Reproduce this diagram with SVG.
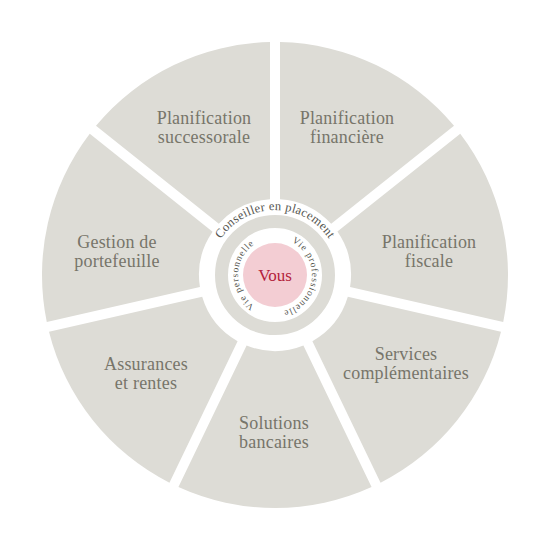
<svg xmlns="http://www.w3.org/2000/svg" xmlns:xlink="http://www.w3.org/1999/xlink" width="550" height="550" viewBox="0 0 550 550">
<style>
.seg{fill:#dddcd6}
.lbl{font-family:"Liberation Serif","Times New Roman",serif;font-size:18px;fill:#77756a;text-anchor:middle;letter-spacing:0.2px}
.arc{font-family:"Liberation Serif","Times New Roman",serif;fill:#55554f;text-anchor:middle}
</style>
<defs>
<path id="seg" d="M5,-232.95 A233,233 0 0 1 179.01,-149.15 L56.17,-51.19 A76,76 0 0 0 5,-75.84 Z"/>
<path id="pTop" d="M-65,0 A65,65 0 0 1 65,0"/>
<path id="pLeft" d="M0,37 A37,37 0 0 1 0,-37"/>
<path id="pRight" d="M0,-37 A37,37 0 0 1 0,37"/>
</defs>
<rect width="550" height="550" fill="#fff"/>
<g id="financiere">
<use xlink:href="#seg" class="seg" transform="translate(275,275)"/>
<text class="lbl" x="347" y="124">Planification</text>
<text class="lbl" x="347" y="143">financière</text>
</g>
<g id="fiscale">
<use xlink:href="#seg" class="seg" transform="translate(275,275) rotate(51.4286)"/>
<text class="lbl" x="429" y="248">Planification</text>
<text class="lbl" x="429" y="267">fiscale</text>
</g>
<g id="services">
<use xlink:href="#seg" class="seg" transform="translate(275,275) rotate(102.8571)"/>
<text class="lbl" x="406" y="360">Services</text>
<text class="lbl" x="406" y="379">complémentaires</text>
</g>
<g id="solutions">
<use xlink:href="#seg" class="seg" transform="translate(275,275) rotate(154.2857)"/>
<text class="lbl" x="274" y="429">Solutions</text>
<text class="lbl" x="274" y="448">bancaires</text>
</g>
<g id="assurances">
<use xlink:href="#seg" class="seg" transform="translate(275,275) rotate(205.7143)"/>
<text class="lbl" x="146" y="370">Assurances</text>
<text class="lbl" x="146" y="389">et rentes</text>
</g>
<g id="gestion">
<use xlink:href="#seg" class="seg" transform="translate(275,275) rotate(257.1429)"/>
<text class="lbl" x="117" y="248">Gestion de</text>
<text class="lbl" x="117" y="267">portefeuille</text>
</g>
<g id="successorale">
<use xlink:href="#seg" class="seg" transform="translate(275,275) rotate(308.5714)"/>
<text class="lbl" x="204" y="124">Planification</text>
<text class="lbl" x="204" y="143">successorale</text>
</g>
<g id="conseiller" transform="translate(275,275)">
<circle r="53.5" fill="none" stroke="#dddcd6" stroke-width="13"/>
<text class="arc" font-size="12.5" letter-spacing="0.3"><textPath xlink:href="#pTop" startOffset="50%">Conseiller en placement</textPath></text>
</g>
<g id="vous" transform="translate(275,275)">
<circle r="32" fill="#f3cdd3"/>
<text x="0" y="6" font-family="'Liberation Serif','Times New Roman',serif" font-size="17" fill="#b3223b" text-anchor="middle">Vous</text>
<text class="arc" font-size="9.5" letter-spacing="0.9"><textPath xlink:href="#pLeft" startOffset="50%">Vie personnelle</textPath></text>
<text class="arc" font-size="9.5" letter-spacing="0.9"><textPath xlink:href="#pRight" startOffset="54%">Vie professionnelle</textPath></text>
</g>
<g id="connectors"/>
</svg>
